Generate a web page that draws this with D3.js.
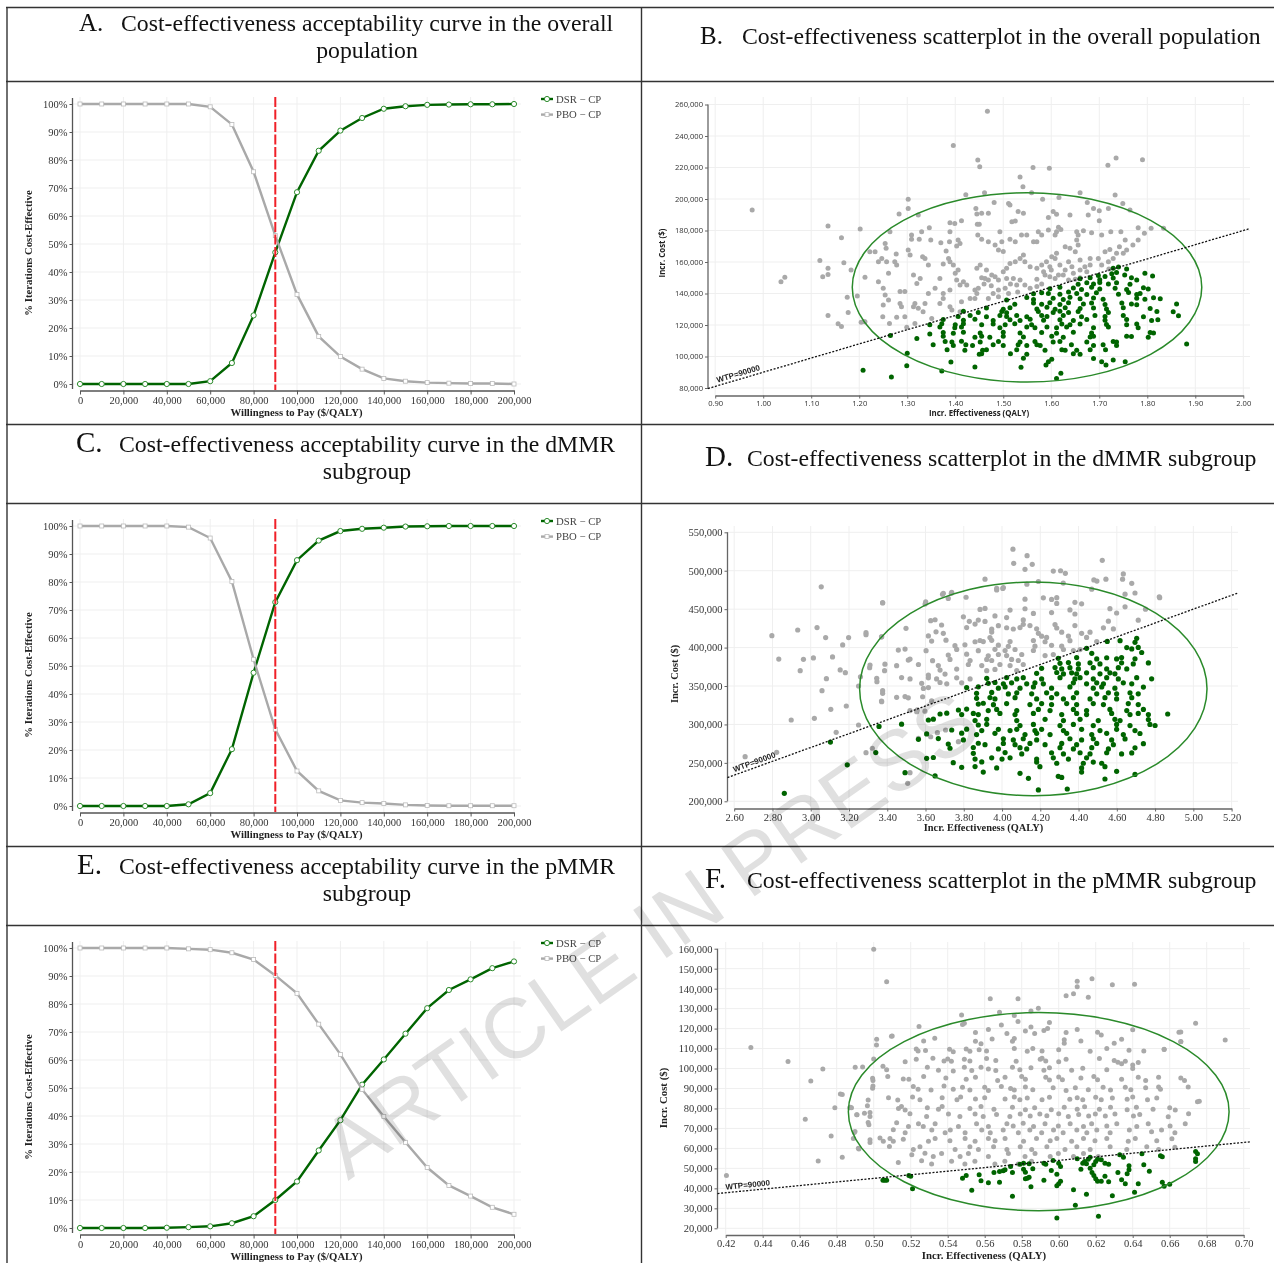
<!DOCTYPE html>
<html>
<head>
<meta charset="utf-8">
<script src="https://cdn.jsdelivr.net/npm/d3@7"></script>
<style>
body{margin:0;background:#fff;}
svg{display:block;filter:blur(0.35px);}
</style>
</head>
<body>
<div id="svgArea"></div>
<script>
// willingness to pay steps, shared by the three curves
const wtpSteps=[0,10000,20000,30000,40000,50000,60000,70000,80000,90000,100000,110000,120000,130000,140000,150000,160000,170000,180000,190000,200000];
const pctTicks=[0,10,20,30,40,50,60,70,80,90,100];

const dsrOverall=[0,0,0,0,0,0,1,7.5,24.5,47,68.5,83.3,90.5,95,98.3,99.2,99.7,99.8,99.9,99.9,100];
const pboOverall=[100,100,100,100,100,100,99,92.7,75.8,53,32,17,9.8,5.3,2,1,0.5,0.3,0.2,0.2,0];
const dsrDmmr=[0,0,0,0,0,0.6,4.6,20.3,47.6,72.8,87.8,94.8,98.2,99,99.4,99.8,99.9,100,100,100,100];
const pboDmmr=[100,100,100,100,100,99.6,95.7,80.2,52.4,27.4,12.5,5.4,2,1.2,0.9,0.4,0.2,0.1,0.1,0.1,0.1];
const dsrPmmr=[0,0,0,0,0.1,0.3,0.6,1.7,4.2,10,16.6,27.7,38.5,51.2,60.2,69.4,78.5,85,88.8,92.8,95.2];
const pboPmmr=[100,100,100,100,100,99.7,99.4,98.3,95.9,90.2,83.8,72.8,62,49.5,39.8,30.6,21.6,15.2,11.4,7.4,4.9];

// scatter values: [effectiveness, cost in $1000]
const bGray=[[0.977,193],[1.037,147.5],[1.045,150.3],[1.135,182.9],[1.118,161],[1.124,150.7],[1.135,156],[1.135,152],[1.163,175.4],[1.168,159.6],[1.183,155],[1.202,181],[1.175,137.6],[1.196,138.4],[1.177,128],[1.135,126],[1.156,120.8],[1.163,119],[1.204,121.7],[1.21,122],[1.396,233.9],[1.447,224.8],[1.451,220.5],[1.467,255.7],[1.562,220],[1.596,219.5],[1.535,214],[1.541,207.8],[1.718,221.4],[1.735,226],[1.79,225],
[1.302,199.8],[1.302,194],[1.283,190.5],[1.323,189.8],[1.264,179.2],[1.309,177.1],[1.309,174.4],[1.33,179.2],[1.346,181.8],[1.325,174.4],[1.349,174],[1.389,185],[1.399,184.5],[1.413,186.2],[1.389,179.2],[1.37,172.3],[1.388,172.9],[1.406,174],[1.41,171.8],[1.403,170.1],[1.381,167],[1.422,202.7],[1.461,204],[1.481,197.7],[1.443,194],[1.445,190.5],[1.455,190.9],[1.469,190.9],[1.446,183.9],[1.45,183.9],[1.493,179.2],[1.447,177.1],[1.455,174.4],[1.469,172.9],[1.483,170.8],[1.497,172.9],[1.514,174.4],[1.525,172.9],[1.49,167.6],[1.5,166.6],[1.518,185.6],[1.525,186],[1.531,192],[1.542,190.9],[1.511,197.2],[1.514,196.2],[1.559,204],[1.582,199.8],[1.616,201],[1.66,204],[1.675,197.7],[1.688,194],[1.7,192.6],[1.733,202.5],[1.749,197.2],[1.719,194],[1.764,193],[1.781,181.8],[1.794,178.2],[1.808,181.4],[1.834,181.4],[1.639,189.8],[1.604,192],[1.611,190.3],[1.594,188.3],[1.677,189.8],[1.7,186.2],[1.594,180.3],[1.573,179.2],[1.58,177.1],[1.57,172.9],[1.563,172.9],[1.538,177.1],[1.549,177.1],[1.615,182],[1.62,180.7],[1.611,179.2],[1.608,177.1],[1.653,179.2],[1.656,177.1],[1.653,174],[1.656,170.8],[1.667,179.9],[1.684,178.6],[1.705,177.1],[1.724,179.2],[1.745,179.2],[1.754,174],[1.742,169.7],[1.77,170.8],[1.781,174],[1.722,168],[1.712,166.5],[1.757,167.6],[1.75,165.5],[1.736,165.5],[1.729,162.3],[1.719,160.2],
[1.629,169.7],[1.639,168.7],[1.65,166.5],[1.611,165.5],[1.601,163.4],[1.608,162.3],[1.59,160.2],[1.58,158.1],[1.57,156],[1.584,153.8],[1.597,150.7],[1.608,149.6],[1.618,158.1],[1.636,160.2],[1.643,157],[1.629,154.9],[1.625,151.7],[1.646,152.8],[1.66,161.3],[1.681,162.3],[1.698,162.3],[1.705,158.1],[1.681,158.1],[1.674,153.8],[1.66,154.9],[1.636,148.6],[1.587,151.7],[1.615,151.7],[1.597,157],[1.542,164.4],[1.535,162.3],[1.525,160.2],[1.514,159.1],[1.545,160.2],[1.556,157],[1.507,156],[1.5,153.8],[1.483,150.7],[1.476,151.7],[1.465,154.9],[1.452,158.1],[1.445,156],[1.462,149.6],[1.469,148.6],[1.49,148.6],[1.507,149.6],[1.521,149.6],[1.535,148.6],[1.545,145.4],[1.556,143.3],[1.528,145.4],[1.504,143.3],[1.511,140],[1.49,142.2],[1.479,140],[1.469,136.9],[1.445,140],[1.441,136.9],[1.431,136.9],[1.417,147.5],[1.424,145.4],[1.41,145.4],[1.403,148.6],[1.389,160.2],[1.396,158.1],[1.386,162.3],[1.375,158.7],[1.4,152.8],[1.406,154.9],[1.368,149.6],[1.344,158.1],[1.327,149.6],[1.32,146.4],[1.313,151.7],[1.302,167.6],[1.306,164.4],[1.277,165.1],[1.274,160.2],[1.278,158.1],[1.332,163.4],[1.337,162.3],[1.254,171.8],[1.256,168.7],[1.233,166.5],[1.222,166.5],[1.247,162.3],[1.24,160.2],[1.257,160.2],[1.261,152.8],[1.212,150.3],[1.24,147.5],[1.25,143.3],[1.254,139],[1.261,135.9],[1.285,141.2],[1.295,141.2],[1.285,133.7],[1.288,131.6],[1.25,132.7],[1.316,133.7],[1.313,131.6],[1.323,130.6],[1.337,133.7],[1.344,140],[1.358,143.3],[1.375,140],[1.375,136.9],[1.368,133.7],[1.389,131.6],[1.393,129.5],[1.413,134.8],[1.41,128.4],[1.351,124.2],[1.333,128.4],[1.295,125.3],[1.278,124.9],[1.249,125.3],[1.263,121],[1.212,122.1],[1.299,118.5],[1.316,121],[1.389,142.2],[1.441,142.2],[1.448,143.3],[1.46,146],[1.475,145],[1.455,150],[1.58,146],[1.57,149],[1.57,144.5],[1.515,146],[1.53,141],[1.49,138],[1.6,155],[1.65,149],[1.66,150],[1.67,157],[1.72,155.5]];
const bGreen=[[1.729,156],[1.74,156.8],[1.757,155.5],[1.726,152.5],[1.736,153.4],[1.795,152.8],[1.753,151.8],[1.698,151.5],[1.712,150.8],[1.811,151.1],[1.66,149.4],[1.681,150],[1.701,148.8],[1.729,149.9],[1.767,150],[1.778,148.6],[1.656,145.9],[1.674,146.8],[1.688,146],[1.701,147],[1.719,146],[1.736,146.8],[1.764,145.8],[1.597,143],[1.618,144],[1.646,143.5],[1.663,142.6],[1.684,144],[1.701,142.8],[1.733,143.3],[1.757,142.5],[1.792,143.6],[1.802,142.8],[1.563,139.8],[1.58,140.5],[1.594,140],[1.618,139.5],[1.636,141],[1.653,140],[1.674,139.4],[1.694,140.5],[1.74,139.6],[1.761,140.6],[1.778,139.4],[1.785,140],[1.507,135.8],[1.549,137.4],[1.563,136.2],[1.604,137],[1.625,136.2],[1.639,137.6],[1.66,136.6],[1.688,137.2],[1.708,136.4],[1.778,137],[1.795,136.4],[1.813,137.3],[1.827,136.6],[1.524,133.2],[1.563,134],[1.58,133.2],[1.597,134.2],[1.618,133],[1.636,134.2],[1.667,133.4],[1.684,134],[1.712,133],[1.747,134],[1.767,133.4],[1.778,132.8],[1.861,133.4],[1.465,130.8],[1.5,130],[1.514,131],[1.57,130.2],[1.591,131.2],[1.608,130],[1.629,131],[1.66,130.4],[1.688,130.8],[1.715,130.2],[1.75,131],[1.806,130.4],[1.417,128.8],[1.448,128],[1.497,128.6],[1.507,127.8],[1.573,128.6],[1.604,128],[1.618,128.8],[1.636,128],[1.656,128.6],[1.719,128],[1.82,128.6],[1.854,128.4],[1.406,125.4],[1.431,126],[1.465,125.2],[1.493,126],[1.507,125.4],[1.528,126.1],[1.549,125.3],[1.58,126],[1.591,125.4],[1.625,126],[1.663,125.2],[1.691,126],[1.712,125.4],[1.75,126.1],[1.792,125.3],[1.865,125.8],[1.375,123.5],[1.417,123],[1.441,123.7],[1.479,122.9],[1.514,123.4],[1.535,122.8],[1.556,123.6],[1.584,123],[1.618,123.4],[1.646,122.9],[1.674,123.5],[1.712,123],[1.757,123.5],[1.809,122.9],[1.822,123.4],[1.347,120.1],[1.372,120.8],[1.4,120.2],[1.417,120.8],[1.455,120.1],[1.479,120.7],[1.504,120.2],[1.524,120.8],[1.559,120.2],[1.622,120.7],[1.639,120.1],[1.66,120.6],[1.715,120.3],[1.778,120.6],[1.757,120.1],[1.368,118.7],[1.399,118.2],[1.413,118.8],[1.493,118.3],[1.549,118.8],[1.566,118.2],[1.591,118.7],[1.611,118.2],[1.632,118.7],[1.688,118.3],[1.719,118.8],[1.781,118.3],[1.375,115.3],[1.396,114.8],[1.417,115.4],[1.452,114.9],[1.5,115.4],[1.535,114.9],[1.58,115.3],[1.611,114.8],[1.646,115.4],[1.684,114.9],[1.806,115.3],[1.813,114.9],[1.375,112.8],[1.441,112.3],[1.455,112.9],[1.472,112.3],[1.5,112.8],[1.542,112.4],[1.601,112.9],[1.625,112.3],[1.688,112.8],[1.681,112.4],[1.757,112.9],[1.802,112.3],[1.767,112.7],[1.379,109.6],[1.393,109.2],[1.413,109.7],[1.452,109.2],[1.49,109.6],[1.535,109.2],[1.566,109.6],[1.604,109.2],[1.618,109.6],[1.674,109.2],[1.729,109.6],[1.736,109.2],[1.354,107.5],[1.396,107],[1.422,107.5],[1.436,107],[1.479,107.5],[1.5,107],[1.531,107.5],[1.549,107],[1.57,107.5],[1.577,107],[1.642,107.5],[1.688,107],[1.708,107.5],[1.736,107],[1.383,104.3],[1.42,103.9],[1.465,104.3],[1.457,103.9],[1.528,104.3],[1.587,103.9],[1.622,104.3],[1.629,103.9],[1.681,104.3],[1.653,103.9],[1.713,104.3],[1.455,101.8],[1.45,101.4],[1.515,101.8],[1.549,101.4],[1.646,101.8],[1.66,101.4],[1.542,98.9],[1.688,98.7],[1.705,96.7],[1.714,94.6],[1.729,97.8],[1.754,96.7],[1.601,98.2],[1.594,96.7],[1.589,94.6],[1.537,93.1],[1.391,96.5],[1.441,93.3],[1.62,89.3],[1.611,86],[1.882,107.9],[1.32,111.5],[1.347,114.3],[1.265,113.4],[1.3,102],[1.299,94.2],[1.372,90.8],[1.267,87],[1.208,91.2]];

const dGray=[[2.657,258],[2.822,263.7],[2.797,415.5],[2.833,385],[2.932,422.9],[2.962,384.7],[2.945,370],[3.033,426],[3.014,386.5],[3.055,479],[3.078,413],[3.114,387.8],[3.082,359.6],[3.059,344],[2.898,305.8],[3.019,308],[3.105,319.7],[3.186,324],[3.133,289.8],[3.167,403.4],[3.198,413],[3.154,370.9],[3.181,367.4],[3.289,416.8],[3.376,458.5],[3.37,414],[3.308,373.9],[3.26,362],[3.25,350],[3.346,355.7],[3.25,299.3],[3.386,370],[3.376,344],[3.37,330.5],[4.057,528],[4.131,519.6],[4.061,509.6],[4.158,508.3],[4.12,501.8],[4.268,499.6],[4.306,500],[4.331,496.6],[3.911,489],[4.496,486.6],[4.543,489],[4.524,513.5],[4.634,495.8],[4.63,489],[4.678,483.6],[4.824,465],[3.972,475],[4.004,477],[3.689,469.3],[3.735,470.6],[3.598,456.7],[4.75,450],[4.13,482.5],[4.19,486],[4.32,484],[4.48,488],
[3.972,477],[4.007,478.2],[4.469,476],[3.693,470.6],[3.737,472],[4.643,469.5],[4.695,471],[4.822,466],[3.719,464],[3.812,465.5],[4.12,463],[4.216,464.8],[4.259,462.7],[4.286,465],[3.376,458],[3.601,459.4],[4.286,457.5],[4.381,458.9],[4.416,457],[4.643,453],[3.885,449.7],[3.911,451],[4.042,448.8],[4.12,450.5],[4.355,449],[4.564,450.6],[4.164,444.5],[4.259,445.6],[4.381,443.7],[4.599,445],[3.798,440],[3.963,441.2],[4.024,439],[3.627,435],[3.65,436.2],[3.829,434.2],[3.876,435.8],[3.911,434],[4.111,436],[4.556,434.3],[4.712,435.6],[3.684,429.4],[3.859,430.6],[3.981,428.5],[4.111,430.2],[4.146,428.6],[4.277,430],[4.381,428.7],[3.498,425],[3.815,426],[3.946,424],[4.024,425.8],[4.059,424.2],[4.094,426],[4.181,424.4],[4.286,425.5],[4.582,424.3],[4.53,425.7],[3.289,419.4],[3.655,420.5],[3.693,418.5],[3.946,420.2],[4.19,418.6],[4.312,420],[4.416,418.6],[4.46,420],[3.371,414],[3.615,415.2],[3.937,413],[4.207,414.8],[4.233,413.2],[4.347,415],[4.442,413.2],[3.632,408.5],[3.707,409.6],[3.859,407.6],[3.885,409.2],[3.902,407.8],[3.946,409.4],[4.042,407.8],[4.164,409.2],[4.225,407.6],[4.355,409],[4.495,407.8],[3.754,402.5],[3.806,403.6],[4.033,401.6],[3.981,403.2],[4.172,401.8],[4.259,403],[4.312,401.8],[3.458,396.8],[3.493,398],[3.603,396],[3.763,397.6],[3.876,396],[3.963,397.8],[4.016,396.2],[4.068,397.5],[4.164,396.2],[4.321,397.5],[4.373,396.2],[4.408,397.4],[3.719,390.3],[3.815,391.4],[3.928,389.4],[3.981,391],[4.024,389.6],[4.103,391],[4.225,389.6],[4.268,391],[3.51,383.8],[3.519,385],[3.637,383],[3.728,384.6],[3.833,383.2],[3.92,384.6],[3.946,383.2],[4.05,384.6],[4.085,383.2],[3.31,377.3],[3.388,378.4],[3.449,376.5],[3.563,378],[3.667,376.6],[3.824,378],[3.894,376.6],[3.989,378],[4.042,376.6],[4.111,378],[3.676,370.8],[3.763,372],[3.92,370],[3.963,371.6],[4.077,370.2],[3.615,364.3],[3.702,365.5],[3.345,360],[3.475,361],[3.519,359.2],[3.615,360.6],[3.658,359.2],[3.763,360.6],[3.833,359.2],[3.58,353.5],[3.676,354.6],[3.711,352.8],[3.789,354.2],[3.589,346.9],[3.615,348],[3.376,340.5],[3.449,335.3],[3.493,336.2],[3.51,334.6],[3.585,336],[3.371,329.6],[3.632,330.6],[3.519,318],[3.557,319],[3.597,317.2],[3.289,263.3],[3.322,269],[3.519,237.2],[3.507,223.4],[3.563,281.9],[3.627,284],[3.662,289.3],[3.705,292.8],[3.772,277.6],[3.554,316.6]];
const dGreen=[[4.704,412],[4.55,408],[4.617,409],[4.695,406.8],[4.442,399],[4.652,400],[4.678,398.2],[4.712,400.2],[4.469,392.5],[4.73,393.6],[4.294,386],[4.39,387],[4.495,385.2],[4.547,386.8],[4.599,385.2],[4.625,387],[4.695,385.4],[4.303,379.5],[4.347,380.6],[4.399,378.8],[4.46,380.2],[4.512,378.8],[4.625,380.2],[4.686,378.8],[4.765,380],[4.207,373],[4.277,374],[4.312,372.2],[4.355,373.8],[4.399,372.2],[4.477,373.8],[4.547,372.2],[4.608,373.8],[4.652,372.2],[4.181,366.5],[4.286,367.6],[4.321,365.7],[4.364,367.2],[4.39,365.8],[4.442,367.2],[4.512,365.8],[4.564,367.2],[4.59,365.8],[3.92,360],[4.024,361],[4.077,359.2],[4.111,360.8],[4.207,359.2],[4.303,360.8],[4.381,359.2],[4.408,360.8],[4.477,359.2],[4.547,360.8],[4.608,359.2],[4.704,360.8],[4.782,359.4],[3.928,353.5],[3.963,354.6],[4.007,352.8],[4.05,354.2],[4.129,352.8],[4.172,354.2],[4.216,352.8],[4.373,354.2],[4.442,352.8],[4.495,354.2],[4.53,352.8],[4.634,354.2],[4.678,352.8],[3.815,348],[3.876,349],[3.981,347.2],[4.016,348.8],[4.094,347.2],[4.164,348.8],[4.259,347.2],[4.355,348.8],[4.477,347.2],[4.521,348.8],[4.59,347.2],[4.739,348.6],[3.867,340.5],[3.946,341.6],[4.033,339.7],[4.077,341.2],[4.155,339.8],[4.233,341.2],[4.286,339.8],[4.39,341.2],[4.495,339.8],[4.556,341.2],[4.599,339.8],[4.669,341.2],[4.712,339.8],[3.867,334],[3.937,335],[3.963,333.2],[4.068,334.8],[4.181,333.2],[4.259,334.8],[4.321,333.2],[4.373,334.8],[4.46,333.2],[4.538,334.8],[4.599,333.2],[4.678,334.8],[3.876,326.5],[3.902,327.6],[3.955,325.7],[4.024,327.2],[4.146,325.8],[4.207,327.2],[4.259,325.8],[4.338,327.2],[4.39,325.8],[4.477,327.2],[4.53,325.8],[4.66,327.2],[4.712,325.8],[3.772,318.8],[3.815,320],[3.928,318],[3.972,319.6],[4.077,318],[4.19,319.6],[4.251,318],[4.373,319.6],[4.442,318],[4.564,319.6],[4.652,318],[4.739,319.6],[3.676,313.6],[3.711,314.6],[3.789,312.8],[3.85,314.4],[3.876,312.8],[3.989,314.4],[4.068,312.8],[4.164,314.4],[4.312,312.8],[4.39,314.4],[4.442,312.8],[4.573,314.4],[4.669,312.8],[4.712,314.4],[4.765,312.8],[4.866,313.6],[3.615,305.8],[3.641,306.8],[3.859,305],[3.92,306.6],[4.077,305],[4.225,306.6],[4.321,305],[4.408,306.6],[4.503,305],[4.59,306.6],[4.617,305],[4.765,306.4],[3.357,297.4],[3.475,300.4],[3.876,299.3],[3.92,300.2],[4.094,298.5],[4.164,300],[4.303,298.5],[4.373,300],[4.477,298.5],[4.599,300],[4.669,298.5],[4.773,300],[4.8,298.6],[3.737,292.8],[3.815,293.8],[3.894,292],[3.981,293.6],[4.042,292],[4.077,293.6],[4.172,292],[4.207,293.6],[4.321,292],[4.416,293.6],[4.512,292],[4.599,293.6],[4.695,292],[3.606,287.6],[3.789,288.6],[3.867,286.8],[3.963,288.4],[4.12,286.8],[4.181,288.4],[4.251,286.8],[4.338,288.4],[4.469,286.8],[4.547,288.4],[4.634,286.8],[4.721,288.2],[3.563,280.6],[3.667,281.6],[3.798,279.8],[4.007,281.4],[4.059,279.8],[4.111,281.4],[4.181,279.8],[4.355,281.4],[4.416,279.8],[4.477,281.4],[4.573,279.8],[4.643,281.2],[3.719,274.5],[3.876,275.5],[3.911,273.7],[4.007,275.3],[4.068,273.7],[4.146,275.3],[4.225,273.7],[4.312,275.3],[4.39,273.7],[4.495,275.3],[4.582,273.7],[4.739,275],[3.728,269],[3.85,270],[3.981,268.2],[4.094,269.8],[4.129,268.2],[4.303,269.8],[4.373,268.2],[4.469,269.8],[4.556,268.2],[4.695,269.6],[3.85,262.4],[4.016,263.4],[4.103,261.6],[4.259,263.2],[4.321,261.6],[4.408,263.2],[4.46,261.6],[4.547,263.2],[4.625,261.6],[4.678,263],[3.606,255.9],[3.641,257],[3.859,255],[3.946,256.6],[4,255],[4.042,256.6],[4.181,255],[4.268,256.6],[4.347,255],[4.442,256.6],[3.745,250.3],[3.894,251.2],[4.286,249.5],[4.181,251],[4.425,249.5],[4.477,251],[4.521,249.5],[3.789,244.2],[3.859,245.2],[3.972,243.4],[4.198,245],[4.416,243.4],[4.538,245],[3.493,237.2],[3.65,233],[3.902,238],[4.094,236.4],[4.294,232.5],[4.416,238],[4.599,239],[4.695,235],[4.138,229.9],[4.312,231],[4.538,229],[4.19,214.8],[4.341,216],[2.862,210.4],[3.191,247.4],[3.103,277],[3.34,263.4]];

const fGray=[[0.5,159.7],[0.507,143.5],[0.61,143.7],[0.61,141],[0.618,145],[0.629,141.9],[0.641,142.2],[0.604,136.5],[0.608,137.4],[0.616,135.7],[0.563,134.9],[0.578,134.9],[0.589,130.2],[0.674,122.7],[0.665,118.2],[0.666,113.5],[0.69,114.3],[0.657,109.5],[0.4336,110.5],[0.4537,103.5],[0.4725,99.8],[0.466,93.8],[0.482,87.3],[0.483,87],[0.479,80.4],[0.463,74.6],[0.477,66.2],[0.483,55.6],[0.47,53.7],[0.4204,46.4],[0.49,100.6],[0.4996,94],[0.4996,91.3],[0.497,84.3],[0.487,80.4],[0.488,80.4],[0.491,76.8],[0.498,78],[0.497,73],[0.4895,68],[0.489,65],[0.498,62.9],[0.492,59.7],[0.5015,111.8],[0.5096,116.1],[0.5245,121],[0.5475,126.8],[0.549,122.7],[0.568,128.2],[0.576,126.5],[0.585,128.8],
[0.548,122],[0.569,121.8],[0.578,123.6],[0.585,120.8],[0.595,123],[0.51,116.3],[0.555,118],[0.562,119.6],[0.572,117.6],[0.582,118.8],[0.587,117.6],[0.592,119],[0.594,120],[0.604,118],[0.61,119.6],[0.621,118.2],[0.623,116.8],[0.64,119.4],[0.666,118.3],[0.5016,114.6],[0.527,113.8],[0.533,115.2],[0.555,113.6],[0.558,112.4],[0.564,114.8],[0.575,113.6],[0.576,115],[0.603,114.4],[0.603,112.6],[0.612,113.8],[0.63,112.6],[0.634,114.6],[0.666,113.4],[0.523,109.8],[0.524,108.8],[0.528,109],[0.541,109.6],[0.543,108.4],[0.55,109.8],[0.552,108.6],[0.557,109.4],[0.561,108.8],[0.576,110],[0.583,108.6],[0.586,110],[0.591,108.8],[0.6,109.4],[0.617,108.6],[0.626,110],[0.638,109.2],[0.646,108.8],[0.657,109.6],[0.5,104.8],[0.517,103.4],[0.523,104.6],[0.532,105.2],[0.538,103.8],[0.54,104.8],[0.542,103.6],[0.549,104.6],[0.552,103.8],[0.561,105],[0.566,104],[0.577,103.6],[0.59,104.6],[0.591,105.2],[0.593,103.8],[0.6,103.4],[0.604,104.6],[0.622,105],[0.63,104],[0.632,103.2],[0.634,102.4],[0.636,103.6],[0.64,101.8],[0.643,103],[0.494,100.8],[0.505,101.2],[0.507,99.4],[0.529,100.6],[0.535,99.2],[0.543,98.8],[0.549,100.6],[0.553,99],[0.558,100.6],[0.562,99.8],[0.566,99],[0.575,100.6],[0.579,99.4],[0.585,100.4],[0.592,99.2],[0.595,100.4],[0.607,99.2],[0.613,100.2],[0.626,99.4],[0.64,100],[0.654,95.6],[0.4994,95.1],[0.5076,96],[0.516,94.8],[0.519,94.6],[0.527,96],[0.539,95.2],[0.55,94.6],[0.555,95.6],[0.567,94],[0.571,95.6],[0.58,96],[0.582,94.6],[0.593,95.6],[0.595,94.2],[0.6,95.8],[0.602,94.4],[0.612,95.2],[0.619,96],[0.621,94.4],[0.634,94.6],[0.643,95.6],[0.647,94],[0.654,90.8],[0.666,95.2],[0.668,94],[0.4994,90.1],[0.5214,91],[0.524,89.6],[0.531,89.2],[0.538,91.2],[0.543,89.6],[0.548,90.6],[0.552,89.2],[0.56,90.6],[0.562,89],[0.569,91],[0.574,90],[0.576,89.2],[0.582,90.8],[0.586,89.4],[0.597,90.4],[0.604,89],[0.609,90.4],[0.616,89.4],[0.624,90.6],[0.628,89.2],[0.636,90.6],[0.639,89.4],[0.647,90.4],[0.655,89.6],[0.67,90.8],[0.508,85.4],[0.513,84.2],[0.521,85.8],[0.525,84.4],[0.537,85.4],[0.545,84.4],[0.547,85.8],[0.555,84.8],[0.56,85.4],[0.571,84.8],[0.576,85.8],[0.579,84.4],[0.583,85.2],[0.591,84.4],[0.595,85.6],[0.606,84.6],[0.61,85.4],[0.613,84.4],[0.62,85.6],[0.623,84.4],[0.629,85.2],[0.637,84.6],[0.64,85.8],[0.648,84.4],[0.653,85.2],[0.675,83.4],[0.676,83.6],[0.4874,80.6],[0.4966,81.4],[0.5134,80],[0.515,81],[0.517,79.2],[0.529,80.4],[0.535,79.6],[0.537,81],[0.552,80],[0.558,81],[0.565,79.6],[0.575,80.6],[0.582,79.4],[0.587,80.4],[0.596,79.4],[0.603,80.6],[0.61,79.6],[0.614,80.8],[0.622,79.6],[0.628,80.6],[0.637,79.4],[0.642,80.6],[0.651,79.6],[0.66,80.4],[0.663,79.2],[0.4908,76.8],[0.495,77.6],[0.498,76],[0.5196,77.4],[0.5286,76],[0.5404,77.2],[0.5466,76],[0.5548,77.2],[0.5592,76],[0.5664,77],[0.5736,76],[0.5792,77.2],[0.5846,76.2],[0.5898,77.2],[0.5936,76.4],[0.6,77.4],[0.6052,76],[0.6108,77],[0.6162,76.2],[0.6198,77.2],[0.6252,76.2],[0.6304,77.2],[0.6404,76.2],[0.6438,77],[0.6592,75.8],[0.6702,77.4],[0.4974,71.8],[0.5124,72.8],[0.5188,71],[0.5242,72.4],[0.5268,71],[0.5332,72.4],[0.5458,71],[0.5556,72.4],[0.5620,71],[0.5720,72.4],[0.5754,71.2],[0.5808,72.6],[0.5864,71],[0.5926,72.4],[0.5998,71.2],[0.6062,72.4],[0.6134,71],[0.6178,72.4],[0.6260,71.2],[0.6314,72.4],[0.6422,71],[0.6484,72.4],[0.6602,71.2],[0.6684,72.4],[0.4899,68.5],[0.5106,69.4],[0.5170,67.8],[0.5314,69.2],[0.5386,67.8],[0.5414,69.2],[0.5494,67.8],[0.5584,69.2],[0.5630,67.8],[0.5700,69.2],[0.5782,67.8],[0.5844,69.2],[0.5908,67.8],[0.5972,69.2],[0.6024,67.8],[0.6098,69.2],[0.6152,67.8],[0.6206,69.2],[0.6278,67.8],[0.6382,69.2],[0.6502,68.4],[0.6556,69.2],[0.6628,67.8],[0.4980,64.3],[0.5034,65.2],[0.5052,63.6],[0.5088,65],[0.5106,63.6],[0.5160,64.6],[0.5296,63.6],[0.5332,65],[0.5412,63.8],[0.5494,65],[0.5548,63.6],[0.5620,65],[0.5656,63.8],[0.5710,65],[0.5810,63.6],[0.5880,65],[0.5954,63.8],[0.5990,65],[0.6070,63.6],[0.6134,65],[0.6196,63.8],[0.6260,65],[0.6376,63.6],[0.6414,65],[0.6530,63.8],[0.6612,64.8],[0.4917,60.1],[0.5085,61],[0.5214,59.4],[0.5250,60.8],[0.5440,59.4],[0.5520,60.8],[0.5566,59.4],[0.5648,60.8],[0.5720,59.4],[0.5792,60.8],[0.5854,59.4],[0.5936,60.8],[0.6034,59.4],[0.6098,60.8],[0.6170,59.4],[0.6278,60.8],[0.6368,59.4],[0.6476,60.8],[0.6540,59.4],[0.6628,60.6],[0.5206,56.8],[0.5277,57.6],[0.5322,56],[0.5367,57.4],[0.5467,56],[0.5512,57.4],[0.5620,56],[0.5728,57.4],[0.5818,56],[0.5872,57.4],[0.5954,56],[0.5998,57.4],[0.6080,56],[0.6134,57.4],[0.6214,56],[0.5133,53],[0.5259,53.8],[0.5313,52.2],[0.5421,53.6],[0.5493,52.2],[0.5547,53.6],[0.5655,52.2],[0.5709,53.6],[0.5781,52.2],[0.5853,53.6]];
const fGreen=[[0.505,44],[0.506,44],[0.507,44.1],[0.519,46.5],[0.52,46],[0.521,39.8],[0.548,45.1],[0.55,46.5],[0.553,39],[0.557,46.8],[0.558,43.8],[0.562,42.8],[0.568,43],[0.565,48],[0.568,48.5],[0.57,48.8],[0.571,49.3],[0.575,48],[0.574,51],[0.575,36.1],[0.579,52.1],[0.581,52.6],[0.584,52.3],[0.586,49.8],[0.581,49.6],[0.582,48.1],[0.583,45.1],[0.582,44.8],[0.584,45.6],[0.585,40.8],[0.592,44],[0.592,52.6],[0.593,52.1],[0.596,49],[0.599,47.1],[0.597,54],[0.6,52.6],[0.601,51],[0.601,43.5],[0.6,42.3],[0.599,41.3],[0.608,39.3],[0.615,37],[0.599,25.2],[0.609,31.5],[0.612,49.6],[0.61,54.8],[0.613,52.6],[0.614,53.5],[0.616,54.6],[0.617,55.6],[0.615,52.3],[0.617,50.1],[0.619,51.8],[0.62,53.5],[0.621,54.6],[0.623,54.3],[0.625,52.6],[0.627,52.1],[0.618,48],[0.619,46.5],[0.62,44.8],[0.621,43.6],[0.623,43.6],[0.625,46],[0.627,43.3],[0.632,48],[0.634,44.3],[0.636,42.3],[0.637,47.3],[0.638,49.3],[0.638,51.3],[0.633,56.8],[0.635,55.6],[0.629,36.3],[0.643,42.3],[0.641,38],[0.646,51.8],[0.649,48.6],[0.645,57.3],[0.655,56.3],[0.656,55.8],[0.656,43],[0.657,41],[0.66,42],[0.674,58.5],[0.675,57.3],[0.674,54.8],[0.674,53.5],[0.6215,26]];

const serif="'Liberation Serif','Times New Roman',serif";
const sans="'Open Sans','Noto Sans',sans-serif";

const svg=d3.select("#svgArea").append("svg").attr("width",1274).attr("height",1263);

// frame of the table the panels sit in
const frameY=[7.5,81.5,424.5,503.5,846.5,925.5];
svg.selectAll("line.rowLine").data(frameY).enter().append("line").attr("class","rowLine")
  .attr("x1",6).attr("x2",1274).attr("y1",d=>d).attr("y2",d=>d).attr("stroke","#333").attr("stroke-width",1.4);
[7,641.5].forEach(function(x){
  svg.append("line").attr("x1",x).attr("x2",x).attr("y1",7).attr("y2",1263).attr("stroke","#333").attr("stroke-width",1.4);
});

function title(letter,letterX,textX,base,text,second,letterSize){
  svg.append("text").attr("x",letterX).attr("y",base).text(letter)
    .style("font-family",serif).style("font-size",letterSize+"px").style("fill","#111");
  svg.append("text").attr("x",textX).attr("y",base).text(text)
    .style("font-family",serif).style("font-size","23.76px").style("fill","#111");
  if(second){
    svg.append("text").attr("x",367).attr("y",base+27).attr("text-anchor","middle").text(second)
      .style("font-family",serif).style("font-size","23.76px").style("fill","#111");
  }
}
title("A.",79,121,31,"Cost-effectiveness acceptability curve in the overall","population",25);
title("B.",700,742,44,"Cost-effectiveness scatterplot in the overall population",null,25);
title("C.",76,119,452,"Cost-effectiveness acceptability curve in the dMMR","subgroup",29);
title("D.",705,747,466,"Cost-effectiveness scatterplot in the dMMR subgroup",null,29);
title("E.",77,119,874,"Cost-effectiveness acceptability curve in the pMMR","subgroup",29);
title("F.",705,747,888,"Cost-effectiveness scatterplot in the pMMR subgroup",null,29);

function styleAxis(g,font,size,color){
  g.selectAll("text").style("font-family",font).style("font-size",size+"px").style("fill","#333");
  g.selectAll("line").attr("stroke",color);
  g.selectAll("path").attr("stroke",color).attr("stroke-width",1.3);
}

function drawCurve(top,dsr,pbo){
  const x=d3.scaleLinear().domain([0,200000]).range([80,514]);
  const y=d3.scaleLinear().domain([0,100]).range([top+280,top]);
  const g=svg.append("g");

  // grid
  g.selectAll("line.gh").data(pctTicks).enter().append("line").attr("class","gh")
    .attr("x1",72).attr("x2",521).attr("y1",d=>y(d)).attr("y2",d=>y(d)).attr("stroke","#efefef");
  g.selectAll("line.gv").data(d3.range(0,200001,20000)).enter().append("line").attr("class","gv")
    .attr("y1",top-7).attr("y2",top+286).attr("x1",d=>x(d)).attr("x2",d=>x(d)).attr("stroke","#efefef");

  const xAxisG=g.append("g").attr("transform","translate(0,"+(top+286.5)+")")
    .call(d3.axisBottom(x).tickValues(d3.range(0,200001,20000)).tickFormat(d3.format(",")).tickSize(4).tickSizeOuter(0).tickPadding(2));
  styleAxis(xAxisG,serif,10.5,"#555");
  const yAxisG=g.append("g").attr("transform","translate(72.5,0)")
    .call(d3.axisLeft(y).tickValues(pctTicks).tickFormat(d=>d+"%").tickSize(3).tickSizeOuter(0).tickPadding(2));
  styleAxis(yAxisG,serif,10.5,"#555");
  yAxisG.select("path").attr("d","M0,"+(top-6)+"V"+(top+285));

  const line=d3.line().x((d,i)=>x(wtpSteps[i])).y(d=>y(d));
  g.append("path").attr("d",line(dsr)).attr("fill","none").attr("stroke","#006400").attr("stroke-width",2.4);
  g.selectAll("circle").data(dsr).enter().append("circle").attr("r",2.6)
    .attr("cx",(d,i)=>x(wtpSteps[i])).attr("cy",d=>y(d))
    .attr("fill","#fff").attr("stroke","#2a8a2a").attr("stroke-width",1);
  g.append("path").attr("d",line(pbo)).attr("fill","none").attr("stroke","#a9a9a9").attr("stroke-width",2.4);
  g.selectAll("rect").data(pbo).enter().append("rect").attr("width",4).attr("height",4)
    .attr("x",(d,i)=>x(wtpSteps[i])-2).attr("y",d=>y(d)-2)
    .attr("fill","#fff").attr("stroke","#bbb").attr("stroke-width",0.8);

  // 90,000 threshold
  g.append("line").attr("x1",x(90000)).attr("x2",x(90000)).attr("y1",top-7).attr("y2",top+286)
    .attr("stroke","#f02028").attr("stroke-width",2).attr("stroke-dasharray","10,2.5");

  g.append("text").attr("x",296.5).attr("y",top+312).attr("text-anchor","middle").text("Willingness to Pay ($/QALY)")
    .style("font-family",serif).style("font-size","10.7px").style("font-weight","bold").style("fill","#222");
  g.append("text").attr("transform","translate(32,"+(top+149)+") rotate(-90)").attr("text-anchor","middle").text("% Iterations Cost-Effective")
    .style("font-family",serif).style("font-size","10.7px").style("font-weight","bold").style("fill","#222");

  // legend
  const legend=[["DSR \u2212 CP","#006400",2.4],["PBO \u2212 CP","#a9a9a9",2.4]];
  legend.forEach(function(l,i){
    const ly=top-5+i*15.6;
    g.append("line").attr("x1",541).attr("x2",553).attr("y1",ly).attr("y2",ly).attr("stroke",l[1]).attr("stroke-width",l[2]);
    if(i==0){
      g.append("circle").attr("cx",547).attr("cy",ly).attr("r",2.6).attr("fill","#fff").attr("stroke","#2a8a2a");
    }else{
      g.append("rect").attr("x",545).attr("y",ly-2).attr("width",4).attr("height",4).attr("fill","#fff").attr("stroke","#bbb").attr("stroke-width",0.8);
    }
    g.append("text").attr("x",556).attr("y",ly+3.5).text(l[0])
      .style("font-family",serif).style("font-size","10.7px").style("fill","#444");
  });
}
drawCurve(104,dsrOverall,pboOverall);
drawCurve(526,dsrDmmr,pboDmmr);
drawCurve(948,dsrPmmr,pboPmmr);

function drawScatter(o){
  const x=d3.scaleLinear().domain(o.xDomain).range(o.xRange);
  const y=d3.scaleLinear().domain(o.yDomain).range(o.yRange);
  const g=svg.append("g");
  const left=o.axisX,right=o.gridRight,bottom=o.axisY,topY=o.gridTop;

  g.selectAll("line.gh").data(o.yTicks).enter().append("line").attr("class","gh")
    .attr("x1",left).attr("x2",right).attr("y1",d=>y(d)).attr("y2",d=>y(d)).attr("stroke","#efefef");
  g.selectAll("line.gv").data(o.xTicks).enter().append("line").attr("class","gv")
    .attr("y1",topY).attr("y2",bottom).attr("x1",d=>x(d)).attr("x2",d=>x(d)).attr("stroke","#efefef");

  const xAxisG=g.append("g").attr("transform","translate(0,"+bottom+")")
    .call(d3.axisBottom(x).tickValues(o.xTicks).tickFormat(d3.format(".2f")).tickSize(3).tickSizeOuter(0).tickPadding(2));
  styleAxis(xAxisG,o.font,o.tickSize,"#666");
  const yAxisG=g.append("g").attr("transform","translate("+left+",0)")
    .call(d3.axisLeft(y).tickValues(o.yTicks).tickFormat(d=>d3.format(",")(d*1000)).tickSize(3).tickSizeOuter(0).tickPadding(2));
  styleAxis(yAxisG,o.font,o.tickSize,"#666");
  yAxisG.select("path").attr("d","M0,"+o.yRange[1]+"V"+o.yRange[0]);

  g.selectAll("circle.gray").data(o.gray).enter().append("circle").attr("class","gray")
    .attr("r",o.r).attr("cx",d=>x(d[0])).attr("cy",d=>y(d[1])).attr("fill","#a9a9a9");
  g.selectAll("circle.green").data(o.green).enter().append("circle").attr("class","green")
    .attr("r",o.r).attr("cx",d=>x(d[0])).attr("cy",d=>y(d[1])).attr("fill","#006400");

  // 95% ellipse
  g.append("ellipse").attr("cx",x(o.ellipse[0])).attr("cy",y(o.ellipse[1]))
    .attr("rx",x(o.ellipse[0]+o.ellipse[2])-x(o.ellipse[0])).attr("ry",y(o.ellipse[1]-o.ellipse[3])-y(o.ellipse[1]))
    .attr("fill","none").attr("stroke","#2a8a2a").attr("stroke-width",1.5);

  // WTP line, cost = 90 * effectiveness in $1000
  const e0=x.invert(left),e1=x.invert(right);
  g.append("line").attr("x1",x(e0)).attr("y1",y(90*e0)).attr("x2",x(e1)).attr("y2",y(90*e1))
    .attr("stroke","#111").attr("stroke-width",1.3).attr("stroke-dasharray","2,1.6");
  const angle=Math.atan2(y(90*e1)-y(90*e0),x(e1)-x(e0))*180/Math.PI;
  g.append("text").attr("transform","translate("+x(o.labelE)+","+(y(90*o.labelE)-3)+") rotate("+angle+")").text("WTP=90000")
    .style("font-family","'Liberation Sans',sans-serif").style("font-size",o.labelSize+"px").style("font-weight","bold").style("fill","#222");

  g.append("text").attr("x",o.xTitle[0]).attr("y",o.xTitle[1]).attr("text-anchor","middle").text("Incr. Effectiveness (QALY)")
    .style("font-family",o.font).style("font-size",o.titleSize+"px").style("font-weight","bold").style("fill","#222");
  g.append("text").attr("transform","translate("+o.yTitle[0]+","+o.yTitle[1]+") rotate(-90)").attr("text-anchor","middle").text("Incr. Cost ($)")
    .style("font-family",o.font).style("font-size",o.titleSize+"px").style("font-weight","bold").style("fill","#222");
}

drawScatter({gray:bGray,green:bGreen,xDomain:[0.9,2.0],xRange:[715.2,1243.3],yDomain:[80,260],yRange:[388,104.5],
  xTicks:d3.range(9,21).map(d=>d/10),yTicks:d3.range(80,261,20),axisX:708,axisY:395.5,gridRight:1250,gridTop:97,
  ellipse:[1.5495,143.9,0.364,60.1],labelE:0.905,labelSize:8,font:sans,tickSize:7.6,titleSize:7.9,r:2.5,xTitle:[979,416],yTitle:[665,253]});
drawScatter({gray:dGray,green:dGreen,xDomain:[2.6,5.2],xRange:[734.2,1231.6],yDomain:[200,550],yRange:[801.3,532.3],
  xTicks:d3.range(13,27).map(d=>d/5),yTicks:d3.range(200,551,50),axisX:727.5,axisY:808.5,gridRight:1238,gridTop:526,
  ellipse:[4.1635,346.3,0.908,139],labelE:2.6,labelSize:8,font:serif,tickSize:10.5,titleSize:10.4,r:2.6,xTitle:[983.5,831],yTitle:[678,674]});
drawScatter({gray:fGray,green:fGreen,xDomain:[0.42,0.70],xRange:[725.7,1243.7],yDomain:[20,160],yRange:[1228.3,948.7],
  xTicks:d3.range(21,36).map(d=>d/50),yTicks:d3.range(20,161,10),axisX:717.5,axisY:1235,gridRight:1250,gridTop:942,
  ellipse:[0.5892,78.4,0.1029,49.6],labelE:0.42,labelSize:8,font:serif,tickSize:10.5,titleSize:10.8,r:2.5,xTitle:[984,1259],yTitle:[667,1098]});

// publisher watermark goes over everything
svg.append("text").attr("transform","translate(348,1181) rotate(-35)").text("ARTICLE IN PRESS")
  .style("font-family","'Liberation Sans',sans-serif").style("font-size","85px").style("fill","#000").style("opacity",0.12);
</script>
</body>
</html>
